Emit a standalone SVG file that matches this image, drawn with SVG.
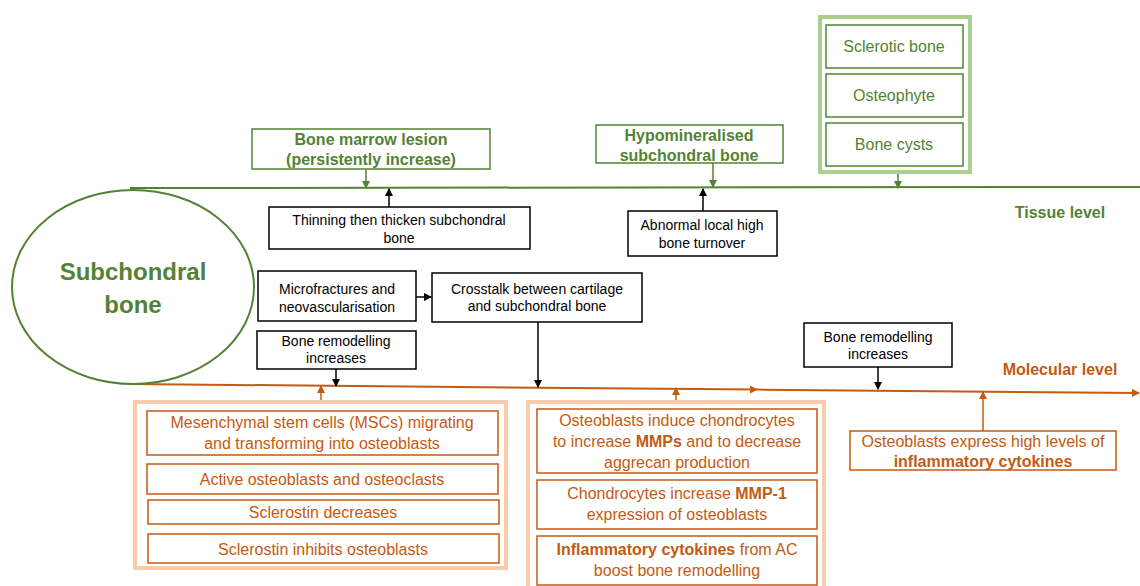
<svg xmlns="http://www.w3.org/2000/svg" width="1140" height="586" viewBox="0 0 1140 586">
<style>
text{font-family:"Liberation Sans",Arial,sans-serif;text-anchor:middle}
.g{fill:#548235}
.o{fill:#c55a11}
.k{fill:#000;font-size:14px}
.t16{font-size:16px}
.b{font-weight:bold}
.bk{fill:#fff;stroke:#000;stroke-width:1.5}
.bg{fill:#fff;stroke:#548235;stroke-width:1.5}
.bo{fill:#fff;stroke:#c55a11;stroke-width:1.5}
.cg{stroke:#548235;stroke-width:1.5;fill:none}
.co{stroke:#c55a11;stroke-width:1.5;fill:none}
.ck{stroke:#000;stroke-width:1.5;fill:none}
</style>
<defs>
<marker id="ak" markerWidth="8" markerHeight="8" refX="7" refY="4" orient="auto" markerUnits="userSpaceOnUse"><path d="M0,0 L8,4 L0,8 z" fill="#000"/></marker>
<marker id="ag" markerWidth="8" markerHeight="8" refX="7" refY="4" orient="auto" markerUnits="userSpaceOnUse"><path d="M0,0 L8,4 L0,8 z" fill="#548235"/></marker>
<marker id="ao" markerWidth="8" markerHeight="8" refX="7" refY="4" orient="auto" markerUnits="userSpaceOnUse"><path d="M0,0 L8,4 L0,8 z" fill="#c55a11"/></marker>
</defs>

<g id="levels">
<line x1="130" y1="188" x2="1140" y2="187" stroke="#548235" stroke-width="2"/>
<polyline points="130,384 757,389.6 1139,393" stroke="#c55a11" stroke-width="2" fill="none" marker-mid="url(#ao)" marker-end="url(#ao)"/>
<text x="1060" y="218" class="g b t16">Tissue level</text>
<text x="1060" y="375" class="o b t16">Molecular level</text>
</g>

<g id="subchondral">
<ellipse cx="133" cy="287" rx="121" ry="97" fill="#fff" stroke="#548235" stroke-width="2"/>
<text x="133" y="280" class="g b" font-size="24">Subchondral</text>
<text x="133" y="313" class="g b" font-size="24">bone</text>
</g>

<g id="bml">
<rect x="252" y="129" width="238" height="40" class="bg"/>
<text x="371" y="145" class="g b t16">Bone marrow lesion</text>
<text x="371" y="165" class="g b t16">(persistently increase)</text>
</g>

<g id="thinning">
<rect x="269" y="207" width="261" height="42" class="bk"/>
<text x="399" y="225" class="k">Thinning then thicken subchondral</text>
<text x="399" y="243" class="k">bone</text>
</g>

<g id="hypo">
<rect x="596" y="125" width="187" height="38" class="bg"/>
<text x="689" y="141" class="g b t16">Hypomineralised</text>
<text x="689" y="161" class="g b t16">subchondral bone</text>
</g>

<g id="abnormal">
<rect x="628" y="211" width="149" height="45" class="bk"/>
<text x="702" y="230" class="k">Abnormal local high</text>
<text x="702" y="248" class="k">bone turnover</text>
</g>

<g id="tissue-changes">
<rect x="820" y="17" width="150" height="155" fill="#fff" stroke="#a9d18e" stroke-width="4"/>
<rect x="826" y="25" width="137" height="43" class="bg"/>
<text x="894" y="52" class="g t16">Sclerotic bone</text>
<rect x="826" y="74" width="137" height="43" class="bg"/>
<text x="894" y="101" class="g t16">Osteophyte</text>
<rect x="826" y="123" width="137" height="43" class="bg"/>
<text x="894" y="150" class="g t16">Bone cysts</text>
</g>

<g id="microfractures">
<rect x="258" y="271" width="158" height="50" class="bk"/>
<text x="337" y="294" class="k">Microfractures and</text>
<text x="337" y="312" class="k">neovascularisation</text>
</g>

<g id="crosstalk">
<rect x="432" y="273" width="210" height="49" class="bk"/>
<text x="537" y="294" class="k">Crosstalk between cartilage</text>
<text x="537" y="311" class="k">and subchondral bone</text>
</g>

<g id="remodel1">
<rect x="257" y="331" width="159" height="38" class="bk"/>
<text x="336" y="346" class="k">Bone remodelling</text>
<text x="336" y="363" class="k">increases</text>
</g>

<g id="remodel2">
<rect x="804" y="323" width="148" height="44" class="bk"/>
<text x="878" y="342" class="k">Bone remodelling</text>
<text x="878" y="359" class="k">increases</text>
</g>

<g id="cells-group">
<rect x="135" y="402" width="371" height="166" fill="#fff" stroke="#f8cbad" stroke-width="4"/>
<rect x="147" y="411" width="351" height="44" class="bo"/>
<text x="322" y="428" class="o t16">Mesenchymal stem cells (MSCs) migrating</text>
<text x="322" y="449" class="o t16">and transforming into osteoblasts</text>
<rect x="147" y="464" width="351" height="30" class="bo"/>
<text x="322" y="485" class="o t16">Active osteoblasts and osteoclasts</text>
<rect x="148" y="500" width="351" height="24" class="bo"/>
<text x="323" y="518" class="o t16">Sclerostin decreases</text>
<rect x="148" y="534" width="351" height="29" class="bo"/>
<text x="323" y="555" class="o t16">Sclerostin inhibits osteoblasts</text>
</g>

<g id="crosstalk-group">
<rect x="528" y="402" width="296" height="190" fill="#fff" stroke="#f8cbad" stroke-width="4"/>
<rect x="537" y="409" width="280" height="64" class="bo"/>
<text x="677" y="426" class="o t16">Osteoblasts induce chondrocytes</text>
<text x="677" y="447" class="o t16">to increase <tspan class="b">MMPs</tspan> and to decrease</text>
<text x="677" y="468" class="o t16">aggrecan production</text>
<rect x="537" y="480" width="280" height="49" class="bo"/>
<text x="677" y="499" class="o t16">Chondrocytes increase <tspan class="b">MMP-1</tspan></text>
<text x="677" y="520" class="o t16">expression of osteoblasts</text>
<rect x="537" y="536" width="280" height="49" class="bo"/>
<text x="677" y="555" class="o t16"><tspan class="b">Inflammatory cytokines</tspan> from AC</text>
<text x="677" y="576" class="o t16">boost bone remodelling</text>
</g>

<g id="cytokines">
<rect x="850" y="431" width="266" height="39" class="bo"/>
<text x="983" y="447" class="o t16">Osteoblasts express high levels of</text>
<text x="983" y="467" class="o t16 b">inflammatory cytokines</text>
</g>

<g id="connectors">
<line x1="366" y1="169" x2="366" y2="188" class="cg" marker-end="url(#ag)"/>
<line x1="713" y1="163" x2="713" y2="187" class="cg" marker-end="url(#ag)"/>
<line x1="898" y1="174" x2="898" y2="188" class="cg" marker-end="url(#ag)"/>
<line x1="389" y1="207" x2="389" y2="189" class="ck" marker-end="url(#ak)"/>
<line x1="703" y1="211" x2="703" y2="189" class="ck" marker-end="url(#ak)"/>
<line x1="416" y1="297" x2="431" y2="297" class="ck" marker-end="url(#ak)"/>
<line x1="538" y1="322" x2="538" y2="387" class="ck" marker-end="url(#ak)"/>
<line x1="336" y1="369" x2="336" y2="386" class="ck" marker-end="url(#ak)"/>
<line x1="878" y1="367" x2="878" y2="389" class="ck" marker-end="url(#ak)"/>
<line x1="321" y1="400" x2="321" y2="386" class="co" marker-end="url(#ao)"/>
<line x1="676" y1="400" x2="676" y2="388" class="co" marker-end="url(#ao)"/>
<line x1="983" y1="431" x2="983" y2="392" class="co" marker-end="url(#ao)"/>
</g>
</svg>
